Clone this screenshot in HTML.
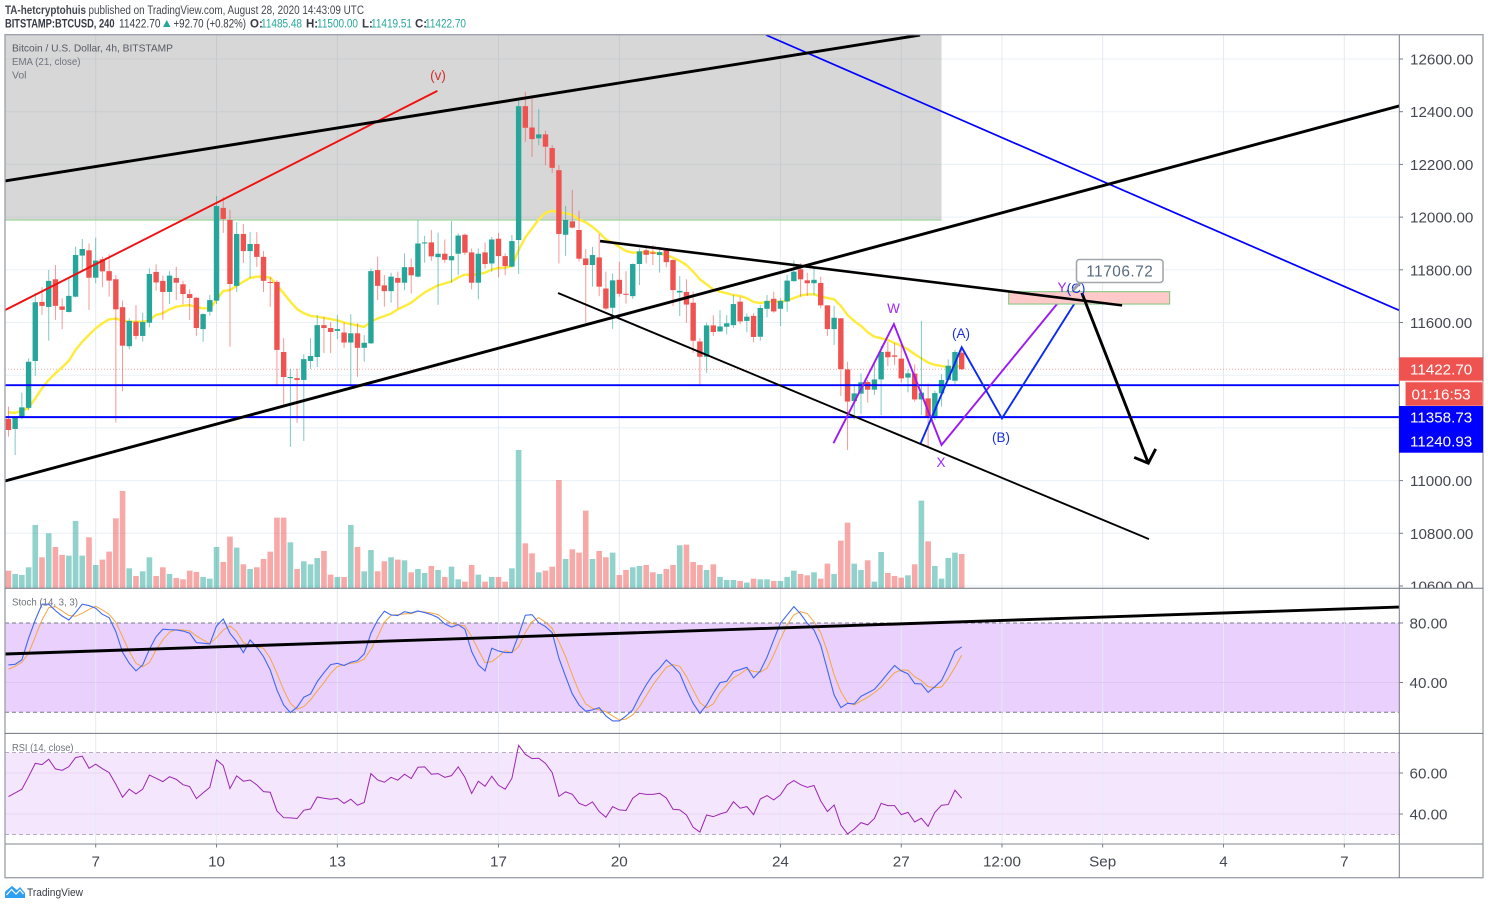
<!DOCTYPE html>
<html lang="en">
<head>
<meta charset="utf-8">
<title>BTCUSD 4h chart</title>
<style>
html,body{margin:0;padding:0;background:#fff;width:1488px;height:907px;overflow:hidden}
svg{display:block;font-family:"Liberation Sans",sans-serif}
</style>
</head>
<body>
<svg id="chart" xmlns="http://www.w3.org/2000/svg" width="1488" height="907" viewBox="0 0 1488 907">
  <defs>
    <clipPath id="main-clip"><rect x="5" y="35" width="1394" height="553"/></clipPath>
    <clipPath id="price-clip"><rect x="1399" y="35" width="84" height="553"/></clipPath>
    <clipPath id="plot-clip"><rect x="5" y="35" width="1394" height="809"/></clipPath>
  </defs>
  <rect x="0" y="0" width="1488" height="907" fill="#ffffff"/>

  <g font-size="11.5" fill="#434750">
    <text x="5" y="14" font-weight="bold" textLength="81" lengthAdjust="spacingAndGlyphs">TA-hetcryptohuis</text>
    <text x="88.5" y="14" textLength="275.5" lengthAdjust="spacingAndGlyphs">published on TradingView.com, August 28, 2020 14:43:09 UTC</text>
  </g>
  <g font-size="11.5" fill="#363a45">
    <text x="5" y="27.5" font-weight="bold" textLength="109.5" lengthAdjust="spacingAndGlyphs">BITSTAMP:BTCUSD, 240</text>
    <text x="119" y="27.5" textLength="41.5" lengthAdjust="spacingAndGlyphs">11422.70</text>
    <polygon points="163,27 170.5,27 166.8,20" fill="#26a69a"/>
    <text x="173.5" y="27.5" textLength="72.5" lengthAdjust="spacingAndGlyphs">+92.70 (+0.82%)</text>
    <text x="250" y="27.5" font-weight="bold">O:</text>
    <text x="261" y="27.5" fill="#26a69a" textLength="41" lengthAdjust="spacingAndGlyphs">11485.48</text>
    <text x="306" y="27.5" font-weight="bold">H:</text>
    <text x="317" y="27.5" fill="#26a69a" textLength="41" lengthAdjust="spacingAndGlyphs">11500.00</text>
    <text x="362" y="27.5" font-weight="bold">L:</text>
    <text x="371" y="27.5" fill="#26a69a" textLength="41" lengthAdjust="spacingAndGlyphs">11419.51</text>
    <text x="415" y="27.5" font-weight="bold">C:</text>
    <text x="425" y="27.5" fill="#26a69a" textLength="41" lengthAdjust="spacingAndGlyphs">11422.70</text>
  </g>

  <g id="grid-layer"></g>
  <g id="fill-layer" clip-path="url(#plot-clip)"></g>
  <g id="grid-over-layer"></g>
  <g id="zone-layer" clip-path="url(#main-clip)"></g>
  <g id="volume-layer" clip-path="url(#main-clip)"></g>
  <g id="ema-layer" clip-path="url(#main-clip)"></g>
  <g id="candle-layer" clip-path="url(#main-clip)"></g>
  <g id="osc-layer" clip-path="url(#plot-clip)"></g>
  <g id="drawing-layer" clip-path="url(#plot-clip)"></g>

  <g font-size="13.5" text-anchor="middle">
    <text x="438" y="80" fill="#d32f2f">(v)</text>
    <text x="893.5" y="313" fill="#9c27ff">W</text>
    <text x="941" y="467" fill="#9c27ff">X</text>
    <text x="1062" y="292" fill="#9c27ff">Y</text>
    <text x="961" y="338" fill="#1a2fe0">(A)</text>
    <text x="1001" y="442" fill="#1a2fe0">(B)</text>
    <text x="1076" y="293" fill="#1a2fe0">(C)</text>
  </g>

  <g>
    <path d="M1081,282 L1073,290" stroke="#9aa0a6" stroke-width="3" fill="none"/>
    <rect x="1076.5" y="259.5" width="86.5" height="23" rx="3" fill="#ffffff" stroke="#a3a7ad" stroke-width="1.6"/>
    <text x="1119.8" y="276.5" text-anchor="middle" font-size="15.4" fill="#566a7f" letter-spacing="0.5">11706.72</text>
  </g>

  <g font-size="10.5" fill="#6f737e">
    <text x="12" y="51.5" fill="#565a65" textLength="161" lengthAdjust="spacingAndGlyphs">Bitcoin / U.S. Dollar, 4h, BITSTAMP</text>
    <text x="12" y="65" textLength="68.5" lengthAdjust="spacingAndGlyphs">EMA (21, close)</text>
    <text x="12" y="78.5" textLength="14.5" lengthAdjust="spacingAndGlyphs">Vol</text>
    <text x="12" y="605.5" textLength="66" lengthAdjust="spacingAndGlyphs">Stoch (14, 3, 3)</text>
    <text x="12" y="751" textLength="61.5" lengthAdjust="spacingAndGlyphs">RSI (14, close)</text>
  </g>

  <g fill="none">
    <rect x="5" y="34.7" width="1478" height="843" stroke="#9a9ea8" stroke-width="1.3"/>
    <line x1="1399.3" y1="35" x2="1399.3" y2="878" stroke="#787b86" stroke-width="1"/>
    <line x1="5" y1="588.3" x2="1483" y2="588.3" stroke="#6f737e" stroke-width="1"/>
    <line x1="5" y1="733.4" x2="1483" y2="733.4" stroke="#6f737e" stroke-width="1"/>
    <line x1="5" y1="844" x2="1483" y2="844" stroke="#9a9ea8" stroke-width="1.3"/>
  </g>
  <g id="axis-layer"></g>

  <g id="tag-layer" font-size="15.2" fill="#ffffff">
    <rect x="1399" y="357.3" width="84" height="23.4" fill="#ef5350"/>
    <text x="1410" y="374.5">11422.70</text>
    <rect x="1405.5" y="382" width="77.5" height="24" fill="#ef5350" stroke="#f9b3b1" stroke-width="0.8"/>
    <text x="1411.5" y="399.5">01:16:53</text>
    <rect x="1399" y="406" width="84" height="46.7" fill="#0000ff"/>
    <text x="1410" y="422.5">11358.73</text>
    <text x="1410" y="446.3">11240.93</text>
  </g>

  <g>
    <path d="M5,898 L5,893 Q5,891 7,890 L12,886 L17,890 L20,887 L25,893 L25,898 Z" fill="#2e9ef0"/>
    <path d="M6.5,895 L11.5,889.5 L16,894 L20,890 L23.5,894" fill="none" stroke="#ffffff" stroke-width="1.2"/>
    <text x="27" y="896" font-size="11" fill="#363a45" textLength="56" lengthAdjust="spacingAndGlyphs">TradingView</text>
  </g>
</svg>

<script>
// ---------- Data ----------
const opens = [11234,11196,11240,11276,11454,11678,11659,11764,11661,11640,
11698,11854,11874,11770,11840,11795,11764,11658,11510,11603,
11549,11599,11792,11758,11716,11769,11745,11708,11694,11575,
11641,11683,12035,11989,11739,11936,11871,11898,11849,11754,
11754,11488,11389,11389,11382,11454,11469,11590,11579,11568,
11562,11524,11559,11504,11521,11799,11741,11719,11769,11751,
11810,11774,11900,11904,11848,11861,11836,11861,11933,11866,
11751,11866,11824,11918,11852,11812,11913,12421,12340,12299,
12314,12262,12178,11933,11984,11951,11843,11818,11847,11729,
11656,11762,11709,11700,11822,11874,11866,11856,11875,11837,
11714,11716,11675,11528,11470,11589,11566,11584,11590,11679,
11606,11625,11546,11652,11690,11652,11680,11757,11802,11760,
11749,11750,11665,11575,11616,11422,11302,11330,11374,11345,
11384,11489,11475,11463,11391,11406,11308,11312,11245,11331,
11382,11379,11485.48];
const highs = [11281,11245,11334,11464,11713,11734,11799,11818,11692,11768,
11888,11917,11900,11922,11850,11859,11780,11683,11616,11666,
11637,11806,11821,11778,11795,11812,11759,11726,11696,11635,
11704,12080,12076,12027,11981,11974,11943,11943,11871,11773,
11761,11541,11424,11424,11480,11541,11628,11621,11602,11628,
11600,11632,11597,11552,11805,11850,11780,11789,11793,11862,
11843,11989,11929,11951,11941,11915,11985,11938,11938,11881,
11881,11903,11925,11941,11862,11932,12454,12476,12450,12410,
12328,12273,12197,12042,12103,12024,11879,11887,11936,11793,
11786,11831,11795,11824,11881,11894,11894,11887,11877,11840,
11776,11764,11717,11540,11599,11628,11647,11628,11704,11698,
11635,11635,11666,11704,11717,11692,11780,11835,11825,11789,
11809,11774,11666,11663,11617,11451,11367,11407,11382,11445,
11511,11527,11521,11515,11422,11441,11606,11369,11341,11405,
11460,11496,11500];
const lows = [11167,11097,11233,11268,11398,11629,11531,11610,11575,11638,
11696,11795,11648,11749,11734,11698,11220,11340,11498,11536,
11527,11582,11721,11610,11670,11685,11669,11610,11549,11527,
11626,11670,11940,11508,11716,11826,11769,11811,11716,11659,
11363,11279,11128,11219,11150,11424,11431,11484,11484,11537,
11504,11346,11394,11451,11518,11685,11660,11675,11653,11723,
11710,11771,11827,11834,11667,11827,11751,11780,11856,11726,
11688,11805,11793,11771,11780,11809,11784,12286,12229,12273,
12197,12168,11824,11853,11957,11831,11599,11736,11700,11647,
11576,11698,11672,11690,11742,11824,11818,11789,11809,11663,
11625,11599,11485,11365,11410,11549,11565,11555,11580,11594,
11563,11525,11531,11620,11637,11587,11641,11755,11698,11701,
11704,11654,11549,11515,11321,11116,11232,11253,11296,11325,
11249,11435,11439,11372,11335,11300,11249,11126,11230,11281,
11380,11365,11419.51];
const closes = [11192,11243,11278,11451,11677,11663,11758,11663,11648,11701,
11856,11879,11770,11835,11794,11759,11650,11512,11606,11549,
11602,11784,11752,11716,11778,11751,11708,11693,11579,11632,
11685,12042,11993,11746,11936,11871,11898,11849,11758,11750,
11496,11393,11393,11382,11461,11473,11590,11579,11564,11575,
11524,11559,11504,11523,11795,11739,11719,11774,11751,11810,
11779,11900,11904,11851,11861,11838,11852,11930,11865,11751,
11861,11822,11915,11852,11814,11909,12421,12339,12296,12314,
12267,12187,11936,11989,11960,11842,11818,11856,11736,11653,
11760,11709,11705,11822,11870,11857,11861,11867,11829,11723,
11720,11668,11531,11470,11589,11564,11585,11597,11670,11604,
11622,11545,11655,11682,11642,11682,11759,11793,11764,11749,
11762,11665,11575,11618,11423,11300,11331,11373,11345,11384,
11488,11468,11470,11388,11407,11308,11334,11243,11332,11382,
11436,11488,11422.70];
const emaValues = [11259,11257,11265,11276,11312,11350,11382,11407,11430,11455,
11496,11527,11553,11578,11597,11612,11615,11606,11603,11603,
11603,11608,11629,11635,11650,11660,11664,11666,11658,11654,
11654,11685,11720,11723,11739,11755,11769,11774,11774,11770,
11742,11711,11679,11651,11635,11625,11622,11618,11613,11608,
11600,11594,11589,11583,11603,11615,11624,11634,11650,11662,
11675,11695,11714,11728,11741,11748,11756,11771,11782,11780,
11784,11789,11801,11807,11808,11814,11875,11923,11957,11991,
12016,12024,12018,12015,12008,11991,11980,11963,11941,11915,
11903,11887,11871,11865,11866,11867,11866,11862,11856,11846,
11834,11818,11793,11764,11745,11726,11717,11711,11704,11701,
11692,11678,11674,11678,11679,11679,11683,11693,11702,11707,
11707,11698,11693,11688,11663,11628,11606,11587,11563,11546,
11540,11534,11522,11512,11498,11480,11464,11448,11439,11435,
11430,11432,11435];
const volumes = [53,43,40,63,190,93,165,124,100,98,
202,98,153,70,86,110,210,292,60,37,
51,93,37,63,43,31,27,53,49,34,
29,124,79,155,122,72,58,63,88,110,
212,212,138,58,81,72,91,112,41,34,
34,190,124,51,115,51,81,93,86,84,
48,58,46,67,55,34,65,27,20,70,
41,20,34,34,20,60,415,135,105,48,
53,65,325,88,117,107,233,88,112,93,
107,40,55,63,67,70,48,43,58,70,
129,131,79,70,55,72,34,25,25,22,
17,29,27,27,22,22,34,53,43,39,
48,29,74,43,143,197,74,55,84,20,
109,46,37,32,39,72,263,141,67,29,
91,107,103];
const stochK = [51.8,52.2,55.2,69.7,82.0,92.6,92.6,88.3,84.7,82.0,
87.0,92.6,91.7,89.9,85.8,83.6,74.2,60.3,52.9,47.8,
51.8,62.3,70.8,75.8,75.5,75.3,74.6,73.1,66.8,66.4,
65.9,78.0,82.7,73.1,67.5,60.1,68.6,63.7,57.4,48.4,
35.0,24.9,19.8,23.4,30.1,32.3,40.6,46.6,52.0,52.9,
51.4,53.6,54.7,59.2,73.1,82.0,87.9,85.4,85.0,87.6,
86.7,88.1,87.0,85.6,83.6,79.4,77.3,78.9,75.8,60.8,
51.8,47.8,63.0,61.2,60.1,60.1,71.9,85.2,85.6,80.2,
77.6,73.5,56.3,44.0,32.3,24.9,20.7,21.6,23.1,17.5,
14.2,14.2,17.5,21.6,30.5,38.4,45.1,49.6,55.2,51.1,
46.2,35.4,26.0,19.3,24.9,32.8,39.9,40.8,47.3,48.7,
50.2,43.1,47.8,57.0,68.6,79.8,85.4,91.0,86.1,79.8,
75.3,65.2,48.4,31.6,23.1,26.0,25.6,30.7,33.0,35.4,
40.6,46.2,51.4,47.8,45.8,39.3,39.0,33.4,37.2,41.3,
50.7,61.0,63.9];
const stochD = [48.9,50.9,53.6,59.6,70.8,82.0,90.3,91.0,88.1,85.0,
84.5,86.5,89.2,91.2,88.8,85.8,80.5,70.8,60.8,52.9,
50.5,53.4,61.9,68.6,73.8,75.5,75.3,74.6,71.3,68.6,
66.1,70.2,75.3,78.0,74.2,66.8,64.8,63.9,63.0,56.3,
46.2,35.0,26.0,22.0,23.8,28.3,34.3,39.9,46.2,50.7,
51.8,52.9,53.4,55.8,62.3,70.8,80.5,85.2,85.6,86.1,
86.3,87.9,87.4,86.7,85.6,82.5,79.8,78.7,78.0,70.8,
61.9,53.4,54.0,57.4,61.4,60.1,64.1,73.5,80.9,83.6,
80.5,76.4,67.5,57.4,45.1,33.9,25.6,22.7,21.6,20.4,
17.5,14.8,15.5,18.2,23.8,31.0,38.4,44.4,50.2,52.0,
50.9,44.0,35.0,26.5,22.9,25.6,33.2,38.4,43.1,45.8,
48.9,47.5,46.9,49.6,58.5,69.0,78.7,85.4,87.6,86.3,
80.9,73.5,60.8,45.1,33.9,26.5,24.9,27.6,30.1,33.2,
36.8,41.7,46.6,48.4,48.2,43.9,41.3,37.2,36.6,37.0,
42.8,50.2,58.3];
const rsiValues = [48.5,50.3,52.1,58.2,64.7,64.1,66.7,62.0,61.3,63.1,
67.5,68.2,62.3,64.3,62.1,60.2,54.5,48.2,52.1,49.8,
52.1,59.0,57.4,55.8,58.2,56.9,54.3,53.4,47.5,50.3,
53.0,66.4,63.6,52.4,58.6,56.0,56.6,54.2,50.9,50.6,
41.5,38.2,38.1,37.8,41.8,42.5,48.3,47.7,47.2,47.7,
45.2,47.2,44.3,45.6,59.7,56.6,55.5,57.9,56.5,59.4,
57.3,62.8,63.0,59.4,59.7,57.9,58.7,63.0,57.9,50.0,
56.0,53.5,58.4,54.0,52.1,57.4,73.5,69.1,67.0,67.2,
64.7,60.2,48.6,50.8,49.6,45.2,43.9,45.9,41.2,38.4,
43.6,42.0,41.7,47.7,50.1,49.6,49.6,50.1,47.8,42.3,
42.0,39.5,33.5,31.2,39.5,38.7,40.0,41.0,46.0,42.8,
43.6,39.7,47.3,49.0,46.9,49.3,54.2,56.3,54.3,53.0,
53.9,46.4,41.2,44.4,34.7,30.3,32.7,35.8,34.7,37.8,
45.2,44.1,44.1,39.7,40.8,36.1,37.9,34.0,40.8,44.3,
44.6,51.6,47.7];

const priceTicks = [12600,12400,12200,12000,11800,11600,11400,11200,11000,10800,10600];
const priceTickLabels = ['12600.00','12400.00','12200.00','12000.00','11800.00','11600.00','11400.00','11200.00','11000.00','10800.00','10600.00'];
const timeTickBars = [13,31,49,73,91,115,133,148,163,181,199];
const timeTickLabels = ['7','10','13','17','20','24','27','12:00','Sep','4','7'];
const stochTicks = [80,40];
const stochTickLabels = ['80.00','40.00'];
const rsiTicks = [60,40];
const rsiTickLabels = ['60.00','40.00'];

const lastPrice = 11422.70;
const levelUpper = 11362;
const levelLower = 11240.93;

// Annotations as [bar index, price] anchors
const wedgeTop = [[-0.51,12137],[135.8,12691]];
const wedgeRising = [[-0.51,10998.5],[207.2,12422]];
const neckline = [[88.13,11909],[165.9,11665]];
const lowerChannel = [[81.87,11712],[169.9,10778]];
const arrowShaft = [[159.9,11712],[169.8,11066]];
const arrowHead = [[167.7,11088],[169.8,11066],[170.9,11120]];
const blueFalling = [[112.85,12691],[207.2,11646]];
const redRising = [[-0.51,11647],[63.9,12479]];
const purpleWave = [[122.9,11142],[131.9,11594],[139.0,11135],[157.9,11723]];
const blueWave = [[135.9,11142],[142,11506],[148,11236],[159.9,11716]];
const grayZone = [[-0.51,12691],[139,11991]];
const pinkZone = [[149,11717],[172.98,11670]];
const stochTrend = [[-0.51,59.15],[207.2,90.7]];

// ---------- Axis functions ----------
const xOf = i => 95.7 + 6.713 * (i - 13);
const yPrice = p => 59 + (12600 - p) * 0.2635;
const yVol = v => 588.3 - v / 3;
const yStoch = v => 682.5 + (40 - v) * 1.488;
const yRsi = v => 814 + (40 - v) * 2.05;

const NS = 'http://www.w3.org/2000/svg';
function mk(tag, attrs, parent){
  const e = document.createElementNS(NS, tag);
  for (const k in attrs) e.setAttribute(k, attrs[k]);
  parent.appendChild(e);
  return e;
}
const gridLayer = document.getElementById('grid-layer');
const gridOver = document.getElementById('grid-over-layer');
const fillLayer = document.getElementById('fill-layer');
const zoneLayer = document.getElementById('zone-layer');
const volumeLayer = document.getElementById('volume-layer');
const emaLayer = document.getElementById('ema-layer');
const candleLayer = document.getElementById('candle-layer');
const oscLayer = document.getElementById('osc-layer');
const drawingLayer = document.getElementById('drawing-layer');
const axisLayer = document.getElementById('axis-layer');

const GRID = '#e8f0f6';
const UP = '#26a69a';
const DOWN = '#ef5350';

// ---------- Oscillator bands ----------
const stochBand = mk('rect', {x:5, y:yStoch(80), width:1394, height:yStoch(20)-yStoch(80), fill:'#e9d0fd'}, fillLayer);


const rsiBand = mk('rect', {x:5, y:yRsi(70), width:1394, height:yRsi(30)-yRsi(70), fill:'#f4e6fd'}, fillLayer);


[[yStoch(80),'stoch-upper-band-line','#787b86','4 3'],[yStoch(20),'stoch-lower-band-line','#787b86','4 3'],[yRsi(70),'rsi-upper-band-line','#b5aebb','4 3'],[yRsi(30),'rsi-lower-band-line','#b5aebb','4 3']].forEach(b => {
  const dash = mk('line', {x1:5, x2:1399, y1:b[0], y2:b[0], stroke:b[2], 'stroke-width':1, 'stroke-dasharray':b[3]}, fillLayer);
  
  
});

// ---------- Grid ----------
priceTicks.forEach(p => {
  const g = mk('line', {x1:5, x2:1399, y1:yPrice(p), y2:yPrice(p), stroke:GRID, 'stroke-width':1}, gridLayer);
  
  
});
timeTickBars.forEach(b => {
  const g = mk('line', {x1:xOf(b), x2:xOf(b), y1:35, y2:844, stroke:'#e3ebf2', 'stroke-width':1}, gridOver);
  
  
});
stochTicks.slice(1).forEach(v => {
  const g = mk('line', {x1:5, x2:1399, y1:yStoch(v), y2:yStoch(v), stroke:'#dcc6f2', 'stroke-width':1}, gridOver);
  
  
});
rsiTicks.forEach(v => {
  const g = mk('line', {x1:5, x2:1399, y1:yRsi(v), y2:yRsi(v), stroke:'#ebdcf6', 'stroke-width':1.4}, gridOver);
  
  
});

// ---------- Gray zone, under candles ----------
const gz = mk('rect', {x:xOf(grayZone[0][0]), y:yPrice(grayZone[0][1]), width:xOf(grayZone[1][0])-xOf(grayZone[0][0]), height:yPrice(grayZone[1][1])-yPrice(grayZone[0][1]), fill:'rgba(155,155,155,0.4)', stroke:'none'}, zoneLayer);


const gzEdge = mk('line', {x1:xOf(grayZone[0][0]), x2:xOf(grayZone[1][0]), y1:yPrice(grayZone[1][1])+0.5, y2:yPrice(grayZone[1][1])+0.5, stroke:'#9ed39e', 'stroke-width':1.2}, zoneLayer);



// ---------- Volume ----------
volumes.forEach((v, i) => {
  const up = closes[i] >= opens[i];
  const bar = mk('rect', {x:xOf(i)-2.8, y:yVol(v), width:5.6, height:588.3-yVol(v), fill:up?'rgba(38,166,154,0.5)':'rgba(239,83,80,0.5)'}, volumeLayer);
  
  
});

// ---------- Last price dotted line ----------
const lastLine = mk('line', {x1:5, x2:1399, y1:yPrice(lastPrice), y2:yPrice(lastPrice), stroke:'#f4a5a3', 'stroke-width':1, 'stroke-dasharray':'1 2'}, emaLayer);



// ---------- Candles ----------
opens.forEach((o, i) => {
  const c = closes[i];
  const up = c >= o;
  const col = up ? UP : DOWN;
  const x = xOf(i);
  const wick = mk('line', {x1:x, x2:x, y1:yPrice(highs[i]), y2:yPrice(lows[i]), stroke:col, 'stroke-width':1, 'stroke-opacity':0.6}, candleLayer);
  
  
  const top = yPrice(Math.max(o, c));
  const h = Math.max(1, yPrice(Math.min(o, c)) - top);
  const body = mk('rect', {x:x-2.7, y:top, width:5.4, height:h, fill:col}, candleLayer);
  
  
});

// ---------- Series lines ----------
function polyPoints(values, yFn){
  return values.map((v, i) => xOf(i).toFixed(2) + ',' + yFn(v).toFixed(2)).join(' ');
}
const emaLine = mk('polyline', {points:polyPoints(emaValues, yPrice), fill:'none', stroke:'#ffeb3b', 'stroke-width':2.4, 'stroke-linejoin':'round'}, emaLayer);



const dLine = mk('polyline', {points:polyPoints(stochD, yStoch), fill:'none', stroke:'#f5a742', 'stroke-width':1}, oscLayer);


const kLine = mk('polyline', {points:polyPoints(stochK, yStoch), fill:'none', stroke:'#4169f0', 'stroke-width':1.1}, oscLayer);


const rsiLine = mk('polyline', {points:polyPoints(rsiValues, yRsi), fill:'none', stroke:'#9c27b0', 'stroke-width':1}, oscLayer);



// ---------- Drawings ----------
function anchorPoints(list){
  return list.map(a => xOf(a[0]).toFixed(2) + ',' + yPrice(a[1]).toFixed(2)).join(' ');
}
const lvl1 = mk('line', {x1:5, x2:1399, y1:yPrice(levelUpper), y2:yPrice(levelUpper), stroke:'#0000ff', 'stroke-width':1.9}, drawingLayer);


const lvl2 = mk('line', {x1:5, x2:1399, y1:yPrice(levelLower), y2:yPrice(levelLower), stroke:'#0000ff', 'stroke-width':1.9}, drawingLayer);



const blueFall = mk('polyline', {points:anchorPoints(blueFalling), fill:'none', stroke:'#0000ff', 'stroke-width':1.7}, drawingLayer);


const redLine = mk('polyline', {points:anchorPoints(redRising), fill:'none', stroke:'#f01010', 'stroke-width':1.9}, drawingLayer);


const topLine = mk('polyline', {points:anchorPoints(wedgeTop), fill:'none', stroke:'#000000', 'stroke-width':2.9}, drawingLayer);


const riseLine = mk('polyline', {points:anchorPoints(wedgeRising), fill:'none', stroke:'#000000', 'stroke-width':2.9}, drawingLayer);


const lowLine = mk('polyline', {points:anchorPoints(lowerChannel), fill:'none', stroke:'#000000', 'stroke-width':1.9}, drawingLayer);



const purplePath = mk('polyline', {points:anchorPoints(purpleWave), fill:'none', stroke:'#9c19f5', 'stroke-width':1.9}, drawingLayer);


const bluePath = mk('polyline', {points:anchorPoints(blueWave), fill:'none', stroke:'#0a2bf5', 'stroke-width':1.9}, drawingLayer);



const pz = mk('rect', {x:xOf(pinkZone[0][0]), y:yPrice(pinkZone[0][1]), width:xOf(pinkZone[1][0])-xOf(pinkZone[0][0]), height:yPrice(pinkZone[1][1])-yPrice(pinkZone[0][1]), fill:'#ffc9c9', stroke:'#7cc67c', 'stroke-width':1}, drawingLayer);



const neckLine = mk('polyline', {points:anchorPoints(neckline), fill:'none', stroke:'#000000', 'stroke-width':2.6}, drawingLayer);


const shaft = mk('polyline', {points:anchorPoints(arrowShaft), fill:'none', stroke:'#000000', 'stroke-width':2.9}, drawingLayer);


const head = mk('polyline', {points:anchorPoints(arrowHead), fill:'none', stroke:'#000000', 'stroke-width':2.9}, drawingLayer);



const stochTrendLine = mk('line', {x1:xOf(stochTrend[0][0]), y1:yStoch(stochTrend[0][1]), x2:xOf(stochTrend[1][0]), y2:yStoch(stochTrend[1][1]), stroke:'#000000', 'stroke-width':2.9}, drawingLayer);



// ---------- Axes ----------
const priceClipG = mk('g', {'clip-path':'url(#price-clip)'}, axisLayer);


priceTicks.forEach((p, i) => {
  const t = mk('line', {x1:1399.5, x2:1403, y1:yPrice(p), y2:yPrice(p), stroke:'#787b86', 'stroke-width':1}, priceClipG);
  
  
  const l = mk('text', {x:1410, y:yPrice(p)+5.5, 'font-size':15.2, fill:'#454852'}, priceClipG);
  
  
  l.textContent = priceTickLabels[i];
});
stochTicks.forEach((v, i) => {
  const t = mk('line', {x1:1399.5, x2:1403, y1:yStoch(v), y2:yStoch(v), stroke:'#787b86', 'stroke-width':1}, axisLayer);
  
  
  const l = mk('text', {x:1409.5, y:yStoch(v)+5.5, 'font-size':15.2, fill:'#454852'}, axisLayer);
  
  
  l.textContent = stochTickLabels[i];
});
rsiTicks.forEach((v, i) => {
  const t = mk('line', {x1:1399.5, x2:1403, y1:yRsi(v), y2:yRsi(v), stroke:'#787b86', 'stroke-width':1}, axisLayer);
  
  
  const l = mk('text', {x:1409.5, y:yRsi(v)+5.5, 'font-size':15.2, fill:'#454852'}, axisLayer);
  
  
  l.textContent = rsiTickLabels[i];
});
timeTickBars.forEach((b, i) => {
  const t = mk('line', {x1:xOf(b), x2:xOf(b), y1:844, y2:847.5, stroke:'#787b86', 'stroke-width':1}, axisLayer);
  
  
  const l = mk('text', {x:xOf(b), y:866.5, 'font-size':15.2, fill:'#454852', 'text-anchor':'middle'}, axisLayer);
  
  
  l.textContent = timeTickLabels[i];
});
</script>
</body>
</html>
